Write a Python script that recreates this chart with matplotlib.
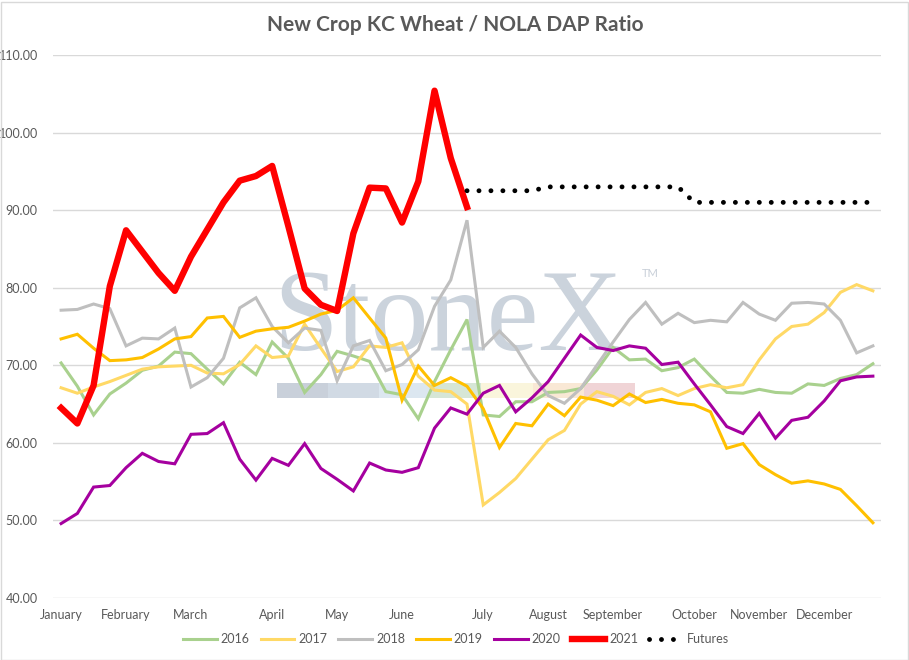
import numpy as np
import matplotlib
matplotlib.use("Agg")
import matplotlib.pyplot as plt
from matplotlib.patches import Rectangle

nan = np.nan

# ---- data ----
months = ["January", "February", "March", "April", "May", "June", "July",
          "August", "September", "October", "November", "December"]
month_pos = [0, 4, 8, 13, 17, 21, 26, 30, 34, 39, 43, 47]
n_weeks = 51

s2016 = [70.3, 67.3, 63.6, 66.3, 67.7, 69.35, 69.9, 71.7, 71.5, 69.5, 67.6, 70.4, 68.8,
         73.0, 70.9, 66.5, 68.8, 71.8, 71.2, 70.5, 66.6, 66.2, 63.1, 67.9, 72.0, 75.9,
         63.6, 63.4, 65.3, 65.3, 66.5, 66.6, 67.0, 69.4, 72.3, 70.7, 70.8, 69.3, 69.7,
         70.8, 68.6, 66.5, 66.4, 66.9, 66.5, 66.4, 67.6, 67.4, 68.3, 68.8, 70.2]
s2017 = [67.1, 66.4, 67.2, 67.9, 68.7, 69.5, 69.8, 69.9, 70.0, 69.0, 68.9, 70.1, 72.5,
         71.0, 71.2, 75.3, 72.2, 69.2, 69.8, 72.5, 72.3, 72.9, 68.6, 66.8, 66.6, 65.0,
         52.0, 53.6, 55.4, 57.9, 60.4, 61.6, 65.0, 66.6, 66.0, 64.9, 66.5, 67.0, 66.1,
         67.0, 67.5, 67.1, 67.5, 70.7, 73.4, 75.0, 75.3, 76.8, 79.4, 80.4, 79.6]
s2018 = [77.1, 77.2, 77.9, 77.3, 72.5, 73.5, 73.4, 74.8, 67.2, 68.4, 70.9, 77.4, 78.7,
         75.0, 72.9, 74.8, 74.5, 68.0, 72.5, 73.2, 69.3, 70.1, 72.0, 77.6, 81.0, 88.7,
         72.3, 74.4, 72.3, 68.9, 66.1, 65.1, 67.0, 70.0, 73.0, 75.9, 78.1, 75.3, 76.7,
         75.5, 75.8, 75.6, 78.1, 76.6, 75.8, 78.0, 78.1, 77.9, 75.8, 71.6, 72.5]
s2019 = [73.4, 74.0, 72.2, 70.6, 70.7, 71.0, 72.1, 73.4, 73.7, 76.1, 76.3, 73.6, 74.4,
         74.7, 74.9, 75.7, 76.6, 77.1, 78.7, 76.1, 73.5, 65.5, 69.9, 67.4, 68.4, 67.3,
         64.4, 59.4, 62.5, 62.2, 65.0, 63.5, 65.9, 65.5, 64.8, 66.3, 65.2, 65.6, 65.1,
         64.9, 64.0, 59.3, 59.9, 57.2, 55.9, 54.8, 55.1, 54.7, 54.0, 51.9, 49.7]
s2020 = [49.6, 50.9, 54.3, 54.5, 56.8, 58.65, 57.6, 57.3, 61.1, 61.2, 62.6, 57.9, 55.2,
         58.0, 57.1, 59.9, 56.7, 55.3, 53.8, 57.4, 56.5, 56.2, 56.8, 61.9, 64.5, 63.7,
         66.4, 67.4, 64.0, 65.8, 67.9, 70.9, 73.9, 72.3, 71.9, 72.5, 72.2, 70.1, 70.4,
         67.6, 64.9, 62.1, 61.2, 63.8, 60.6, 62.9, 63.3, 65.4, 68.0, 68.5, 68.6]
s2021 = [64.5, 62.5, 67.4, 80.2, 87.4, 84.65, 81.9, 79.6, 84.0, 87.5, 91.0, 93.8, 94.4,
         95.7, 87.9, 79.9, 77.8, 77.0, 87.0, 92.9, 92.8, 88.4, 93.7, 105.4, 96.7, 90.4]
futures = [92.5, 92.5, 92.5, 92.5, 92.5, 93.0, 93.0, 93.0, 93.0, 93.0, 93.0, 93.0, 93.0,
           93.0, 91.0, 91.0, 91.0, 91.0, 91.0, 91.0, 91.0, 91.0, 91.0, 91.0, 91.0, 91.0]
futures_start = 25

yticks = [40, 50, 60, 70, 80, 90, 100, 110]

# ---- style ----
FONT = ["Lato", "DejaVu Sans"]
plt.rcParams["font.family"] = FONT
TXT = "#595959"
GRID = "#D9D9D9"

fig = plt.figure(figsize=(9.09, 6.60), dpi=100)
ax = fig.add_axes([53 / 909, 1 - 598 / 660, 828 / 909, 543 / 660])

x = np.arange(n_weeks)

def pad(vals, start=0):
    arr = np.full(n_weeks, nan)
    arr[start:start + len(vals)] = vals
    return arr

series = [
    ("2016", s2016, "#A9D18E", 2.2),
    ("2017", s2017, "#FFD966", 2.2),
    ("2018", s2018, "#BFBFBF", 2.2),
    ("2019", s2019, "#FFC000", 2.2),
    ("2020", s2020, "#A5009F", 2.2),
    ("2021", s2021, "#FF0000", 4.6),
]
for i, (lab, vals, col, lw) in enumerate(series):
    ax.plot(x, pad(vals), color=col, lw=lw, label=lab, zorder=3 + i,
            solid_joinstyle="miter" if lab != "2021" else "round")

ax.plot(x, pad(futures, futures_start), color="black", lw=3.5,
        linestyle=(0, (0.01, 2.45)), dash_capstyle="round", label="Futures", zorder=10)

# watermark
ax.text(0.266, 0.457, "StoneX", transform=ax.transAxes, fontsize=84,
        family=["Liberation Serif", "DejaVu Serif"], color="#CBD3DC",
        ha="left", va="baseline", zorder=1)
ax.text(0.711, 0.5985, "TM", transform=ax.transAxes, fontsize=8,
        color="#C8CFD8", ha="left", va="center", zorder=1)
bar_cols = ["#C9D0DA", "#D1DAE4", "#DCE7F0", "#D6E6D6", "#FAF5DC", "#F9E8D5", "#F0D4D6"]
bx0, bw = 0.270, (0.703 - 0.270) / 7
for k, c in enumerate(bar_cols):
    ax.add_patch(Rectangle((bx0 + k * bw, 0.368), bw, 0.0285, transform=ax.transAxes,
                           facecolor=c, edgecolor="none", zorder=1))

ax.set_xlim(-0.5, n_weeks - 0.5)
ax.set_ylim(40, 110)
ax.set_yticks(yticks)
ax.set_yticklabels([f"{v:.2f}" for v in yticks])
ax.set_xticks(month_pos)
ax.set_xticklabels(months)
ax.tick_params(axis="both", length=0, labelsize=9, labelcolor=TXT)
ax.tick_params(axis="y", pad=11)
ax.tick_params(axis="x", pad=8)
ax.grid(axis="y", color=GRID, lw=1, zorder=0)
ax.set_axisbelow(True)
for sp in ax.spines.values():
    sp.set_visible(False)

fig.text(455 / 909, 1 - 25 / 660, "New Crop KC Wheat / NOLA DAP Ratio",
         ha="center", va="center", fontsize=15, fontweight="bold", color=TXT)

leg = fig.legend(loc="center", bbox_to_anchor=(456 / 909, 1 - 639 / 660), ncol=7,
                 frameon=False, fontsize=9, handlelength=2.7, handletextpad=0.3,
                 columnspacing=0.9, labelcolor=TXT)

fig.patches.append(Rectangle((0.5 / 909, 0.5 / 660), 1 - 2 / 909, 1 - 2 / 660,
                             transform=fig.transFigure, fill=False,
                             edgecolor=GRID, lw=1))

fig.savefig("out.png", dpi=100)
